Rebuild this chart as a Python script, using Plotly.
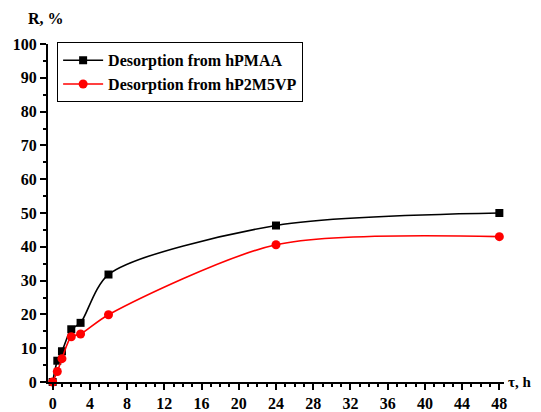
import plotly.graph_objects as go

# Desorption time, h
time_h = [0, 0.5, 1, 2, 3, 6, 24, 48]
# Desorbed fraction R, %
r_hpmaa = [0, 6.3, 9.1, 15.6, 17.5, 31.8, 46.3, 50.0]
r_hp2m5vp = [0, 3.1, 6.9, 13.4, 14.2, 19.9, 40.6, 43.0]

x_ticks = list(range(0, 49, 4))
y_ticks = list(range(0, 101, 10))

font_main = "Liberation Serif"

fig = go.Figure()
fig.add_trace(go.Scatter(
    x=time_h, y=r_hpmaa, name="<b>Desorption from hPMAA</b>",
    mode="lines+markers",
    line=dict(color="black", width=1.6, shape="spline", smoothing=0.8),
    marker=dict(symbol="square", size=8, color="black"),
    cliponaxis=False,
))
fig.add_trace(go.Scatter(
    x=time_h, y=r_hp2m5vp, name="<b>Desorption from hP2M5VP</b>",
    mode="lines+markers",
    line=dict(color="red", width=1.6, shape="spline", smoothing=0.8),
    marker=dict(symbol="circle", size=9, color="red"),
    cliponaxis=False,
))

axis_common = dict(
    showline=True, linecolor="black", linewidth=2,
    ticks="outside", ticklen=6, tickwidth=2, tickcolor="black",
    showgrid=False, zeroline=False, automargin=False,
    tickfont=dict(family=font_main, size=16, color="black", weight="bold"),
)

fig.update_xaxes(
    range=[-0.5, 48.5], tickvals=x_ticks,
    minor=dict(ticks="outside", ticklen=3, tickwidth=1.5, tickcolor="black",
               dtick=1, tick0=0, showgrid=False),
    **axis_common,
)
fig.update_yaxes(
    range=[0, 100], tickvals=y_ticks,
    minor=dict(ticks="outside", ticklen=3, tickwidth=1.5, tickcolor="black",
               dtick=5, tick0=0, showgrid=False),
    **axis_common,
)

fig.update_layout(
    width=541, height=412,
    margin=dict(l=48, r=37, t=44, b=30),
    paper_bgcolor="white", plot_bgcolor="white",
    font=dict(family=font_main, color="black"),
    legend=dict(
        x=0.02, y=1.005, xanchor="left", yanchor="top",
        bgcolor="white", bordercolor="black", borderwidth=1,
        font=dict(family=font_main, size=16, color="black"),
        tracegroupgap=0, itemwidth=40,
    ),
    annotations=[
        dict(text="<b>R, %</b>", xref="paper", yref="paper", x=-0.004, y=1.074,
             xanchor="center", yanchor="middle", showarrow=False,
             font=dict(family=font_main, size=16, color="black")),
        dict(text="<b>τ, h</b>", xref="paper", yref="paper", x=1.005, y=0,
             xanchor="left", yanchor="middle", showarrow=False,
             font=dict(family=font_main, size=15, color="black")),
    ],
)

fig.write_html("out.html")
